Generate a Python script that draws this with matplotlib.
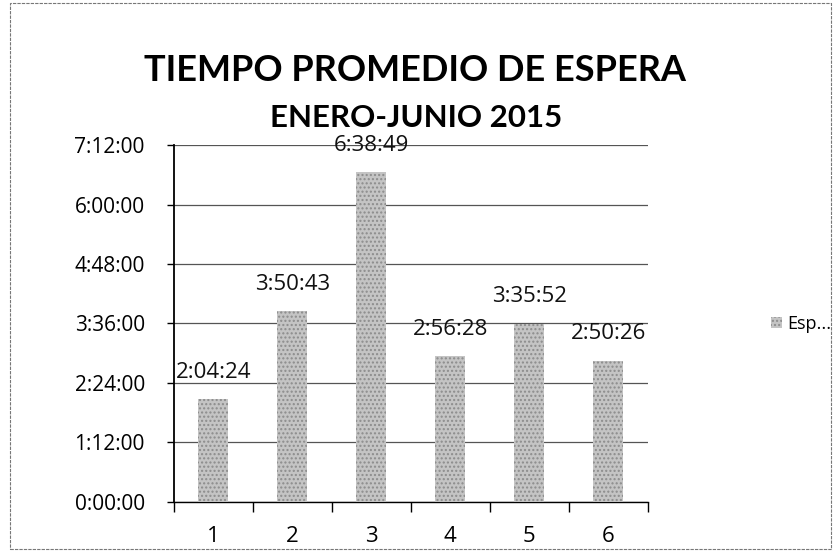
import matplotlib.pyplot as plt
from matplotlib.ticker import FuncFormatter, MultipleLocator, FixedLocator
from matplotlib.patches import Rectangle

plt.rcParams['font.family'] = ['Open Sans', 'DejaVu Sans']

# datos
meses = ['1', '2', '3', '4', '5', '6']
tiempos = ['2:04:24', '3:50:43', '6:38:49', '2:56:28', '3:35:52', '2:50:26']
serie = 'Esp...'

def a_segundos(t):
    h, m, s = t.split(':')
    return int(h) * 3600 + int(m) * 60 + int(s)

def hms(x, pos=None):
    x = int(round(x))
    return '%d:%02d:%02d' % (x // 3600, (x % 3600) // 60, x % 60)

valores = [a_segundos(t) for t in tiempos]
xs = list(range(len(meses)))

fig = plt.figure(figsize=(8.34, 5.52), dpi=100)
ax = fig.add_axes([0.2086, 0.0906, 0.568, 0.6467])

ax.bar(xs, valores, width=0.38, color='#c4c4c4', edgecolor='#8c8c8c',
       linewidth=0, hatch='....', label=serie, zorder=3)

# etiquetas sobre las barras
for x, v, t in zip(xs, valores, tiempos):
    ax.annotate(t, (x, v), xytext=(0, 12), textcoords='offset points',
                ha='center', va='bottom', fontsize=16, color='#111111', zorder=4)

ax.set_xlim(-0.5, len(meses) - 0.5)
ax.set_ylim(0, 7 * 3600 + 12 * 60)
ax.yaxis.set_major_locator(MultipleLocator(4320))
ax.yaxis.set_major_formatter(FuncFormatter(hms))
ax.set_xticks(xs)
ax.set_xticklabels(meses)
ax.xaxis.set_minor_locator(FixedLocator([i - 0.5 for i in range(len(meses) + 1)]))
ax.tick_params(axis='x', which='major', length=0, pad=17, labelsize=16)
ax.tick_params(axis='x', which='minor', length=7, direction='out', width=1)
ax.tick_params(axis='y', length=5, width=1, labelsize=15, pad=16)

ax.grid(axis='y', color='#555555', linewidth=0.9, zorder=0)
for lado in ['top', 'right']:
    ax.spines[lado].set_visible(False)
ax.spines['left'].set_linewidth(1.3)
ax.spines['bottom'].set_linewidth(1.0)

fig.text(0.4976, 0.873, 'TIEMPO PROMEDIO DE ESPERA', ha='center', va='center',
         fontsize=26, fontweight='bold', family='Lato')
fig.text(0.4988, 0.786, 'ENERO-JUNIO 2015', ha='center', va='center',
         fontsize=22.5, fontweight='bold', family='Lato')

fig.legend(loc='center left', bbox_to_anchor=(0.925, 0.413), frameon=False,
           fontsize=13, handlelength=0.6, handleheight=0.6, handletextpad=0.3,
           borderpad=0, borderaxespad=0)

# borde del grafico
fig.patches.append(Rectangle((0.012, 0.005), 0.985, 0.99, transform=fig.transFigure,
                             fill=False, edgecolor='#777777', linewidth=0.8,
                             linestyle=(0, (3, 1))))

fig.savefig('out.png', dpi=100, facecolor='white')
